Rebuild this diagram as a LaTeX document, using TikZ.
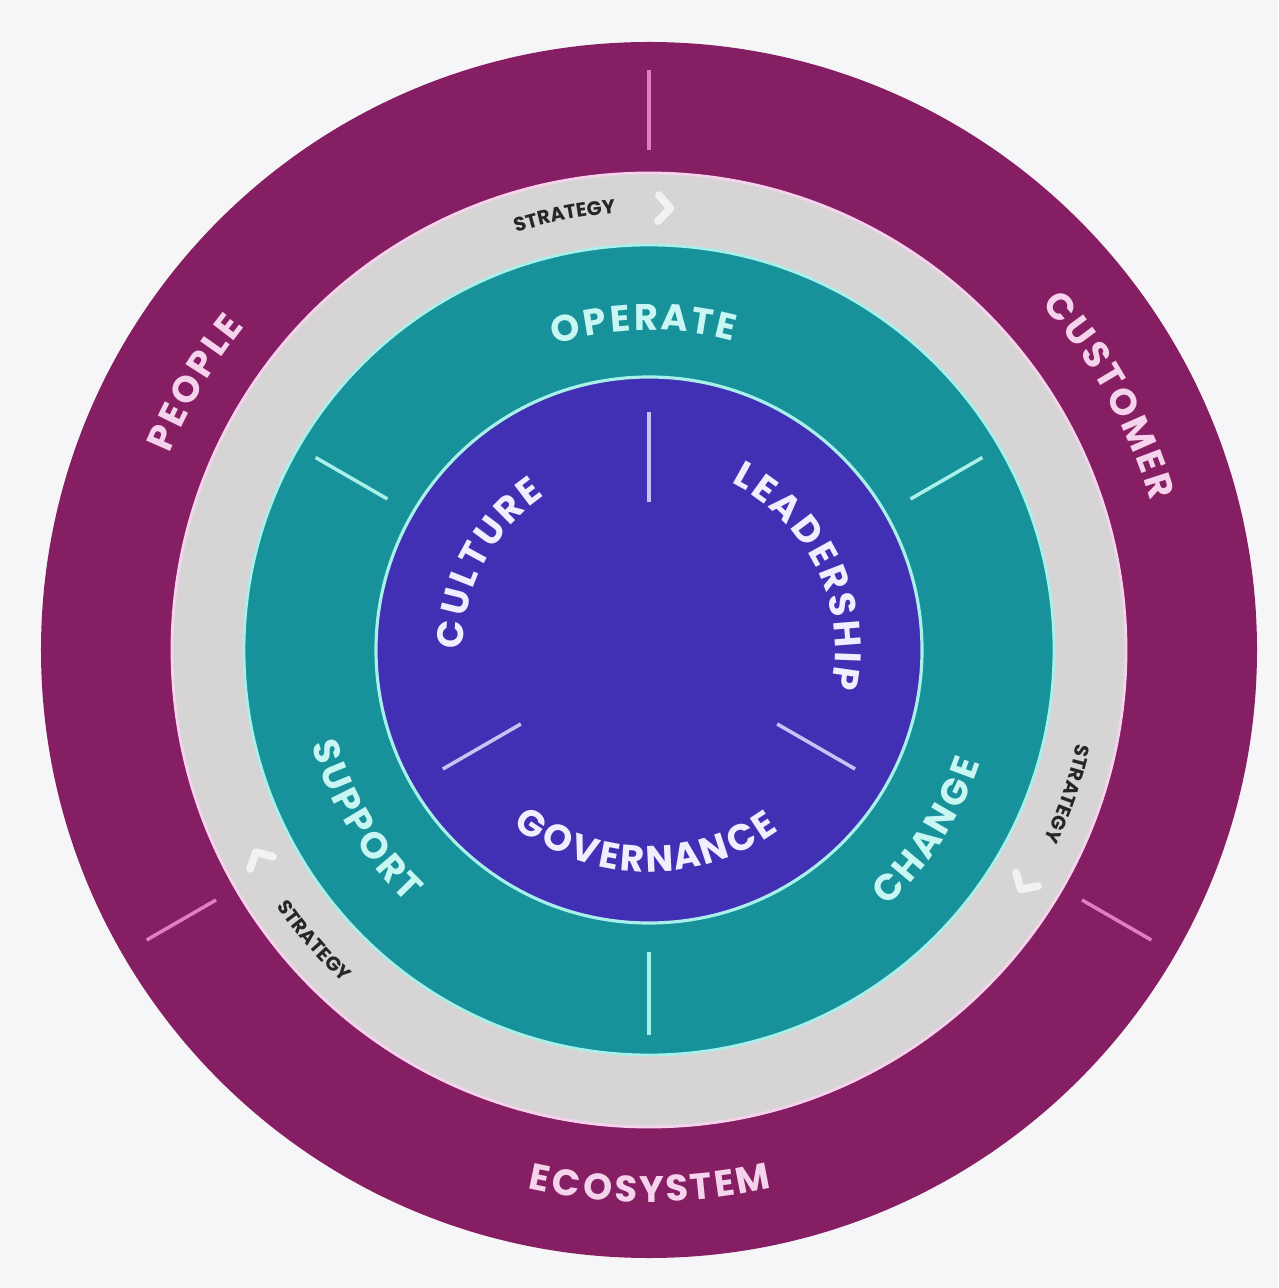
\documentclass[tikz,border=0pt]{standalone}
\usepackage{fontspec}
\setmainfont{Poppins}
\usetikzlibrary{decorations.text}
\definecolor{paper}{HTML}{F6F6F8}
\definecolor{plum}{HTML}{861E63}
\definecolor{mist}{HTML}{D6D4D5}
\definecolor{teal}{HTML}{17919A}
\definecolor{indigo}{HTML}{4230B4}
\definecolor{pinktext}{HTML}{F6D3EC}
\definecolor{cyantext}{HTML}{C8F6F3}
\definecolor{lilactext}{HTML}{F1EEFF}
\definecolor{pinkline}{HTML}{E07CC8}
\definecolor{cyanline}{HTML}{A8F0EA}
\definecolor{lilacline}{HTML}{C9C3F5}
\newcommand\ringfont{\fontsize{10.5}{10.5}\selectfont\bfseries}
\newcommand\tagfont{\fontsize{5.6}{5.6}\selectfont\bfseries}

\begin{document}
\begin{tikzpicture}
\tikzset{
  arclabel/.style 2 args={decorate,decoration={text effects along path,text align=center,
    text={#2},text effects/.cd,text along path,
    characters={text=#1,font=\ringfont,inner sep=0pt,anchor=base},
    character widths={inner xsep=.75pt}}},
  taglabel/.style={decorate,decoration={text along path,text align=center,
    text={|\tagfont\color{black!85}|#1}}},
  chevron/.style={white,line width=2.2pt,opacity=.7,line cap=round,line join=round},
}
\useasboundingbox (-6.49,-6.38) rectangle (6.29,6.50);
\fill[paper] (-6.49,-6.38) rectangle (6.29,6.50);

% rings
\fill[plum] (0,0) circle (6.08);
\fill[mist] (0,0) circle (4.77);
\draw[pinktext,line width=.8pt] (0,0) circle (4.77);
\fill[teal] (0,0) circle (4.05);
\draw[cyanline,line width=.8pt] (0,0) circle (4.05);
\fill[indigo] (0,0) circle (2.73);
\draw[cyanline,line width=.9pt] (0,0) circle (2.73);

% dividers
\foreach \a in {90,210,330}{
  \draw[pinkline,line width=1pt] (\a:5.0)--(\a:5.8);
  \draw[lilacline,line width=1pt] (\a:1.48)--(\a:2.38);
}
\foreach \a in {30,150,270}
  \draw[cyanline,line width=1pt] (\a:3.02)--(\a:3.85);

% outer ring
\path[arclabel={pinktext}{PEOPLE}] (175:5.18) arc[start angle=175,end angle=124,radius=5.18];
\path[arclabel={pinktext}{CUSTOMER}] (64:5.23) arc[start angle=64,end angle=-6,radius=5.23];
\path[arclabel={pinktext}{ECOSYSTEM}] (235:5.52) arc[start angle=235,end angle=305,radius=5.52];

% strategy ring
\path[taglabel={STRATEGY}] (116:4.38) arc[start angle=116,end angle=86,radius=4.38];
\path[taglabel={STRATEGY}] (-4:4.38) arc[start angle=-4,end angle=-34,radius=4.38];
\path[taglabel={STRATEGY}] (206:4.52) arc[start angle=206,end angle=236,radius=4.52];
\foreach \a in {88,-32,208}{
  \begin{scope}[shift={(\a:4.42)},rotate=\a-90]
    \draw[chevron] (-.06,.13)--(.06,0)--(-.06,-.13);
  \end{scope}
}

% teal ring
\path[arclabel={cyantext}{OPERATE}] (120:3.20) arc[start angle=120,end angle=62,radius=3.20];
\path[arclabel={cyantext}{SUPPORT}] (180:3.50) arc[start angle=180,end angle=242,radius=3.50];
\path[arclabel={cyantext}{CHANGE}] (298:3.50) arc[start angle=298,end angle=356,radius=3.50];

% core
\path[arclabel={lilactext}{CULTURE}] (200:1.86) arc[start angle=200,end angle=104,radius=1.86];
\path[arclabel={lilactext}{LEADERSHIP}] (85:1.86) arc[start angle=85,end angle=-33,radius=1.86];
\path[arclabel={lilactext}{GOVERNANCE}] (210:2.22) arc[start angle=210,end angle=328,radius=2.22];
\end{tikzpicture}
\end{document}
